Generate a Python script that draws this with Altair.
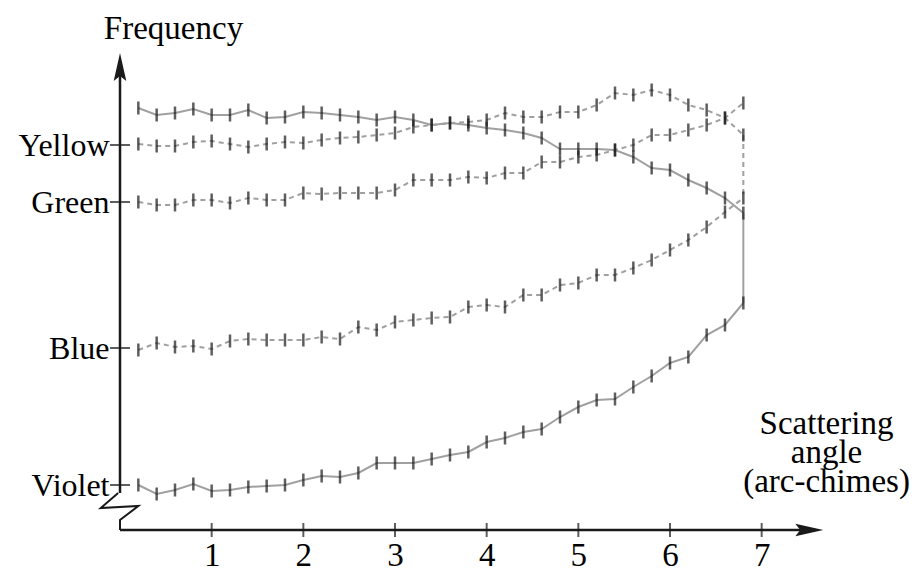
import altair as alt
import pandas as pd

# x positions of the measurements (arc-chimes)
angles = [0.2, 0.4, 0.6, 0.8, 1.0, 1.2, 1.4, 1.6, 1.8, 2.0, 2.2, 2.4, 2.6, 2.8, 3.0, 3.2, 3.4,
          3.6, 3.8, 4.0, 4.2, 4.4, 4.6, 4.8, 5.0, 5.2, 5.4, 5.6, 5.8, 6.0, 6.2, 6.4, 6.6, 6.8]

top_solid = [42.2, 41.5, 41.7, 42.1, 41.5, 41.5, 42.0, 41.2, 41.3, 41.8, 41.7, 41.5, 41.3, 41.0, 41.3, 41.0, 40.5,
             40.7, 40.5, 40.2, 40.0, 39.7, 39.2, 38.1, 38.1, 38.1, 38.0, 37.3, 36.2, 36.0, 35.0, 34.2, 33.2, 31.7]
yellow = [38.6, 38.4, 38.4, 38.8, 38.9, 38.6, 38.3, 38.6, 38.8, 38.7, 39.0, 39.2, 39.3, 39.5, 39.7, 40.3, 40.5,
          40.7, 40.8, 41.0, 41.7, 41.3, 41.3, 41.8, 41.8, 42.5, 43.7, 43.5, 44.0, 43.5, 42.5, 42.0, 41.2, 39.5]
green = [32.8, 32.5, 32.5, 33.0, 33.0, 32.7, 33.2, 33.0, 33.0, 33.7, 33.6, 33.7, 33.7, 33.7, 34.0, 35.0, 35.0,
         35.0, 35.3, 35.2, 35.7, 35.7, 36.8, 36.8, 37.3, 37.5, 38.0, 38.5, 39.5, 39.5, 40.0, 40.5, 41.2, 42.7]
blue = [18.0, 18.7, 18.3, 18.4, 18.1, 18.9, 19.1, 19.0, 19.0, 19.0, 19.3, 19.1, 20.3, 20.0, 20.8, 21.0, 21.2,
        21.3, 22.3, 22.5, 22.3, 23.5, 23.5, 24.5, 24.7, 25.5, 25.5, 26.2, 27.0, 28.0, 29.0, 30.3, 31.8, 33.2]
violet = [4.5, 3.6, 4.0, 4.6, 3.9, 4.0, 4.3, 4.4, 4.5, 5.0, 5.4, 5.3, 5.7, 6.7, 6.7, 6.7, 7.1,
          7.5, 7.8, 8.8, 9.2, 9.8, 10.1, 11.3, 12.3, 13.0, 13.1, 14.3, 15.4, 16.7, 17.3, 19.5, 20.5, 22.7]

series_names = ["Top", "Yellow", "Green", "Blue", "Violet"]
series_vals = [top_solid, yellow, green, blue, violet]
series_dashed = [False, True, True, True, False]

label_names = ["Yellow", "Green", "Blue", "Violet"]
label_values = [38.5, 32.8, 18.2, 4.5]
x_ticks = [1, 2, 3, 4, 5, 6, 7]

# axis-break zigzag (data units)
break_x = [-0.02, -0.21, 0.2, 0.0, 0.0]
break_y = [3.7, 2.2, 2.4, 1.0, 0.0]

rows = []
for name, vals, dashed in zip(series_names, series_vals, series_dashed):
    for a, v in zip(angles, vals):
        rows.append({"x": a, "y": v, "series": name, "dashed": dashed})
df = pd.DataFrame(rows)

conn = pd.DataFrame([
    {"x": angles[-1], "y": yellow[-1], "y2": blue[-1], "dashed": True},
    {"x": angles[-1], "y": top_solid[-1], "y2": violet[-1], "dashed": False},
])

XD = [0, 7.8]
YD = [0, 48]
FONT = "Liberation Serif"
LINE = "#a0a0a0"
INK = "#1a1a1a"

label_expr = " : ".join(
    f"datum.value == {v} ? '{n}'" for n, v in zip(label_names, label_values)
) + " : ''"

X_AXIS = alt.Axis(
    values=x_ticks, domain=False, ticks=False, grid=False,
    labelFont=FONT, labelFontSize=33, labelColor="black", labelPadding=9,
    title=["Scattering", "angle", "(arc-chimes)"], titleFont=FONT, titleFontSize=33,
    titleFontWeight="normal", titleColor="black", titleAngle=0, titleAlign="center",
    titleBaseline="alphabetic", titleLineHeight=29, titleX=706, titleY=-97,
)
Y_AXIS = alt.Axis(
    values=label_values, labelExpr=label_expr, domain=False, ticks=False, grid=False,
    labelFont=FONT, labelFontSize=32, labelColor="black", labelPadding=11,
    labelAlign="right", labelBaseline="middle",
    title="Frequency", titleFont=FONT, titleFontSize=33, titleFontWeight="normal",
    titleColor="black", titleAngle=0, titleAlign="center", titleBaseline="alphabetic",
    titleX=53, titleY=-12,
)


def X(field="x"):
    return alt.X(field, type="quantitative", scale=alt.Scale(domain=XD), axis=X_AXIS)


def Y(field="y"):
    return alt.Y(field, type="quantitative", scale=alt.Scale(domain=YD), axis=Y_AXIS)


solid_lines = alt.Chart(df).transform_filter("!datum.dashed").mark_line(
    color=LINE, strokeWidth=2
).encode(x=X(), y=Y(), detail="series:N", order="x:Q")

dashed_lines = alt.Chart(df).transform_filter("datum.dashed").mark_line(
    color=LINE, strokeWidth=2, strokeDash=[5, 4]
).encode(x=X(), y=Y(), detail="series:N", order="x:Q")

conn_solid = alt.Chart(conn).transform_filter("!datum.dashed").mark_rule(
    color=LINE, strokeWidth=2
).encode(x=X(), y=Y(), y2="y2:Q")

conn_dashed = alt.Chart(conn).transform_filter("datum.dashed").mark_rule(
    color=LINE, strokeWidth=2, strokeDash=[5, 4]
).encode(x=X(), y=Y(), y2="y2:Q")

err_ticks = alt.Chart(df).mark_tick(
    orient="vertical", color=INK, thickness=2.5, size=13
).encode(x=X(), y=Y())

yaxis_df = pd.DataFrame({"x": [0] * len(label_values), "y": label_values})
y_cross = alt.Chart(yaxis_df).mark_tick(
    orient="horizontal", color=INK, thickness=2, size=20
).encode(x=X(), y=Y())

xaxis_df = pd.DataFrame({"x": x_ticks, "y": [0] * len(x_ticks)})
x_cross = alt.Chart(xaxis_df).mark_tick(
    orient="vertical", color=INK, thickness=2, size=14
).encode(x=X(), y=Y())

# axis lines
y_line = alt.Chart(pd.DataFrame({"x": [0], "y": [break_y[0]], "y2": [46.0]})).mark_rule(
    color=INK, strokeWidth=2.5
).encode(x=X(), y=Y(), y2="y2:Q")

x_line = alt.Chart(pd.DataFrame({"x": [0], "x2": [7.5], "y": [0]})).mark_rule(
    color=INK, strokeWidth=2.5
).encode(x=X(), x2="x2:Q", y=Y())

brk = alt.Chart(pd.DataFrame({"x": break_x, "y": break_y, "o": list(range(len(break_x)))})).mark_line(
    color=INK, strokeWidth=2
).encode(x=X(), y=Y(), order="o:Q")

up_arrow = alt.Chart(pd.DataFrame({"x": [0], "y": [46.3]})).mark_point(
    shape="M0,-1L-0.45,1L0,0.65L0.45,1Z", filled=True, color=INK, opacity=1, size=784
).encode(x=X(), y=Y())

right_arrow = alt.Chart(pd.DataFrame({"x": [7.52], "y": [0]})).mark_point(
    shape="M1,0L-1,-0.45L-0.65,0L-1,0.45Z", filled=True, color=INK, opacity=1, size=784
).encode(x=X(), y=Y())

chart = alt.layer(
    x_cross, y_cross, solid_lines, dashed_lines, conn_solid, conn_dashed, err_ticks,
    y_line, x_line, brk, up_arrow, right_arrow,
).properties(
    width=715, height=480,
    autosize=alt.AutoSizeParams(type="none"),
    padding={"left": 120, "top": 50, "right": 77, "bottom": 41},
    background="white",
).configure_view(stroke=None)

chart.save("out.html", embed_options={"renderer": "svg", "actions": False})
